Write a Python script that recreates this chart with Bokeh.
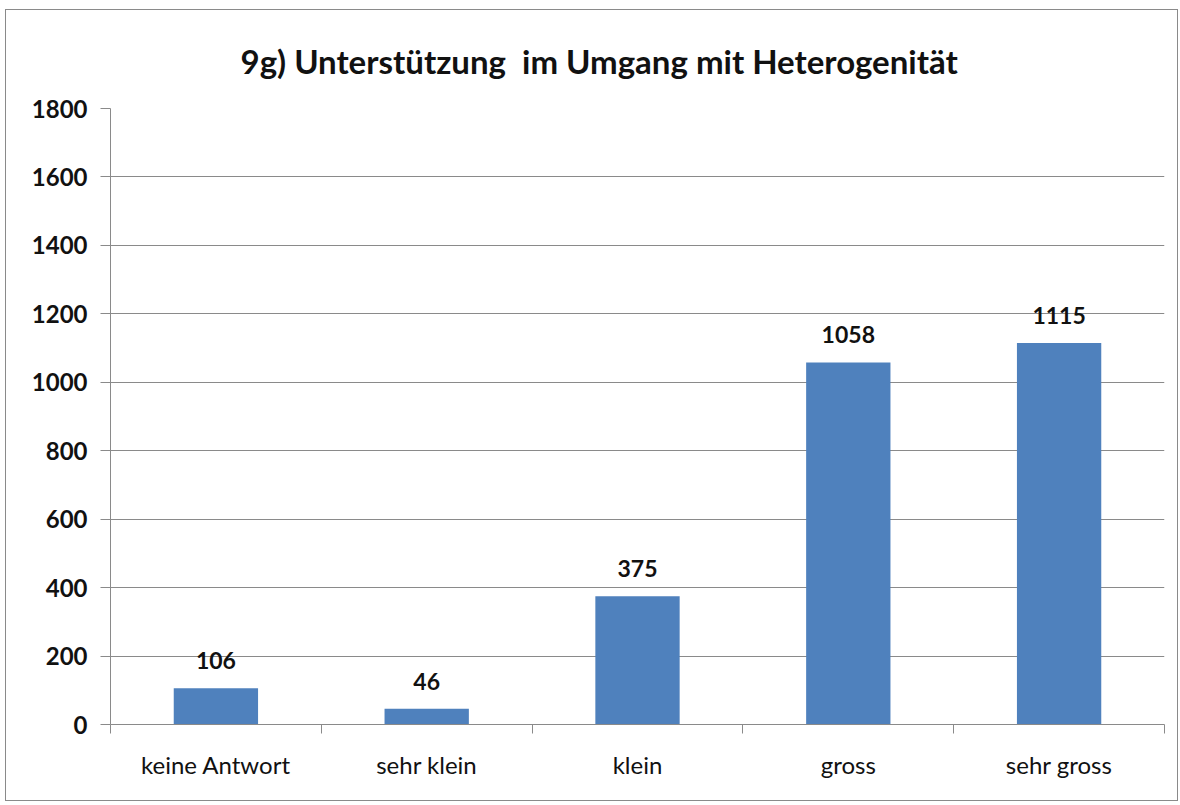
from bokeh.plotting import figure
from bokeh.models import ColumnDataSource, Range1d, FixedTicker
from bokeh.core.properties import value
from bokeh.embed import file_html
from bokeh.resources import INLINE

categories = ["keine Antwort", "sehr klein", "klein", "gross", "sehr gross"]
counts = [106, 46, 375, 1058, 1115]
y_ticks = [0, 200, 400, 600, 800, 1000, 1200, 1400, 1600, 1800]
title_text = "9g) Unterstützung\u00a0 im Umgang mit Heterogenität"

n = len(categories)
centres = [i + 0.5 for i in range(n)]
src = ColumnDataSource(data=dict(x=centres, n=counts,
                                 lbl=[str(v) for v in counts]))

p = figure(x_range=Range1d(0, n), y_range=Range1d(0, 1800),
           width=1173, height=792, output_backend="svg",
           toolbar_location=None,
           min_border_left=104, min_border_right=15,
           min_border_top=98, min_border_bottom=78,
           styles={"border": "1px solid #8a8a8a",
                   "margin-left": "5px", "margin-top": "9px"})
p.outline_line_color = None
p.background_fill_color = "white"
p.border_fill_color = "white"

p.title.text = title_text
p.title.align = "left"
p.title.offset = 130
p.title.text_font = "Lato"
p.title.text_font_size = "33px"
p.title.text_font_style = "bold"
p.title.text_color = "#111111"
p.title.standoff = 56

p.vbar(x="x", top="n", width=0.4, source=src, fill_color="#4F81BD",
       line_color=None)
p.text(x="x", y="n", text="lbl", source=src, text_align="center",
       text_baseline="bottom", y_offset=-19, text_font=value("Lato"),
       text_font_size="23px", text_font_style="bold", text_color="#111111")

# y axis
ya = p.yaxis[0]
ya.ticker = FixedTicker(ticks=y_ticks)
ya.axis_line_color = "#8a8a8a"
ya.major_tick_line_color = "#8a8a8a"
ya.major_tick_out = 10
ya.major_tick_in = 0
ya.minor_tick_line_color = None
ya.major_label_text_font = "Lato"
ya.major_label_text_font_size = "24px"
ya.major_label_text_font_style = "bold"
ya.major_label_text_color = "#111111"
ya.major_label_standoff = 13

p.ygrid.grid_line_color = "#8a8a8a"
p.ygrid.ticker = FixedTicker(ticks=y_ticks)
p.xgrid.grid_line_color = None

# x axis: labels at category centres, tick marks at category boundaries
xa = p.xaxis[0]
xa.ticker = FixedTicker(ticks=centres, minor_ticks=list(range(n + 1)))
xa.major_label_overrides = {c: lab for c, lab in zip(centres, categories)}
xa.axis_line_color = "#8a8a8a"
xa.major_tick_line_color = None
xa.major_tick_out = 0
xa.major_tick_in = 0
xa.minor_tick_line_color = "#8a8a8a"
xa.minor_tick_out = 9
xa.minor_tick_in = 0
xa.major_label_text_font = "Lato"
xa.major_label_text_font_size = "24px"
xa.major_label_text_color = "#111111"
xa.major_label_standoff = 16

open("out.html", "w").write(file_html(p, INLINE))
